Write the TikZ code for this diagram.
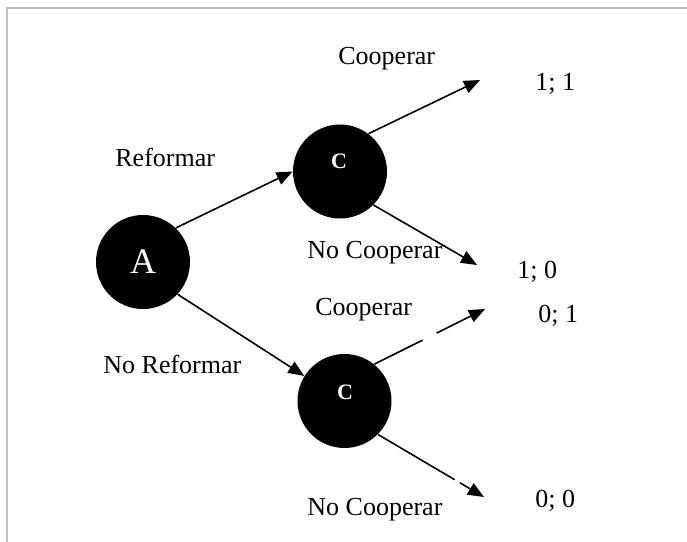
\documentclass[tikz,border=0pt]{standalone}
\usepackage{fontspec}
\setmainfont{Liberation Serif}
\usetikzlibrary{arrows.meta}
\begin{document}
\begin{tikzpicture}[x=0.5pt,y=-0.5pt,
  player/.style={circle,fill=black,draw=none,inner sep=0pt,minimum size=47pt},
  movetext/.style={anchor=base west,inner sep=0pt,font=\fontsize{13}{15}\selectfont},
  nodename/.style={text=white,inner sep=0pt,font=\fontsize{11}{13}\selectfont\bfseries},
  branch/.style={line width=0.8pt,-{Triangle[length=8pt,width=6.5pt]}},
  frameline/.style={draw=black!25,line width=1pt}]
\useasboundingbox (0,0) rectangle (687,542);
% page frame (top and left edges)
\draw[frameline] (6.5,542) -- (6.5,7.5) -- (687,7.5);

% decision nodes
\node[player,text=white,font=\fontsize{18}{20}\selectfont] (A) at (143,262) {A};
\node[player] (C1) at (340,171.5) {};
\node[player] (C2) at (344.5,401) {};
\node[nodename] (c1name) at (339,161) {C};
\node[nodename] (c2name) at (345,392) {C};

% move labels
\node[movetext] (reform) at (115,166) {Reformar};
\node[movetext] (noreform) at (103,373) {No Reformar};
\node[movetext] (coop1) at (338,64) {Cooperar};
\node[movetext] (nocoop1) at (307,258) {No Cooperar};
\node[movetext] (coop2) at (315,315) {Cooperar};
\node[movetext] (nocoop2) at (307,515) {No Cooperar};

% payoffs
\node[movetext] (p11) at (535,90) {1; 1};
\node[movetext] (p10) at (517,278) {1; 0};
\node[movetext] (p01) at (538,322) {0; 1};
\node[movetext] (p00) at (535,507) {0; 0};

% arrow ends in front of the payoffs
\coordinate (t11) at (480,80);
\coordinate (t10) at (477,265);
\coordinate (t01) at (485,309);
\coordinate (t00) at (484,497);

% branches
\draw[branch] (A.46) -- (C1.180);
\draw[branch] (A.-43) -- (C2.148);
\draw[branch] (C1.53) -- (t11);
\draw[branch] (C1.-45) -- (t10);
\draw[branch,dash pattern=on 27pt off 7.8pt on 300pt off 0pt] (C2.51) -- (t01);
\draw[branch,dash pattern=on 44.5pt off 3pt on 300pt off 0pt] (C2.-45) -- (t00);
\end{tikzpicture}
\end{document}
